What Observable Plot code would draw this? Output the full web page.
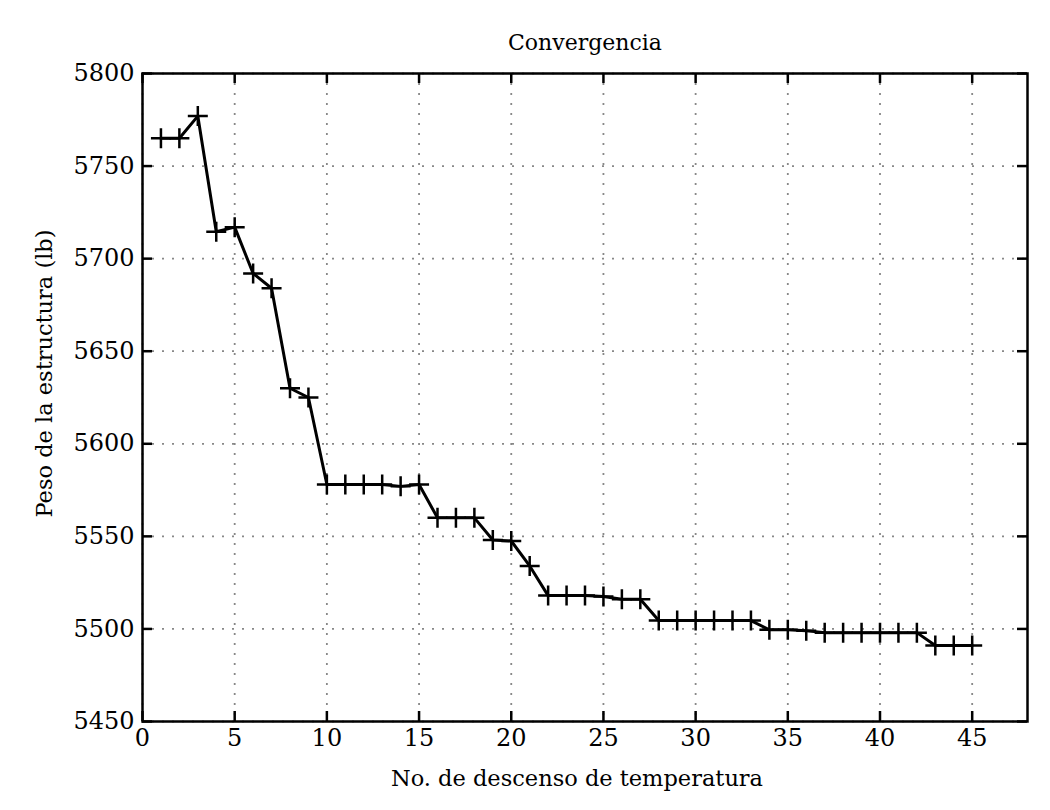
<!DOCTYPE html>
<html>
<head>
<meta charset="utf-8">
<script src="https://cdn.jsdelivr.net/npm/d3@7"></script>
<script src="https://cdn.jsdelivr.net/npm/@observablehq/plot@0.6"></script>
<style>
  html, body { margin: 0; padding: 0; background: #fff; }
  #chart { width: 1050px; height: 810px; }
</style>
</head>
<body>
<div id="chart"></div>
<script>
const titleText = "Convergencia";
const xLabel = "No. de descenso de temperatura";
const yLabel = "Peso de la estructura (lb)";

const iterations = [1,2,3,4,5,6,7,8,9,10,11,12,13,14,15,16,17,18,19,20,21,22,23,24,25,26,27,28,29,30,31,32,33,34,35,36,37,38,39,40,41,42,43,44,45];
const weights = [5765,5765,5777,5714.5,5717,5692,5684,5630,5625,5578,5578,5578,5578,5577,5578,5560,5560,5560,5548,5547.5,5534,5518,5518,5518,5517.5,5516,5516,5504.5,5504.5,5504.5,5504.5,5504.5,5504.5,5499.5,5499.5,5499,5498,5498,5498,5498,5498,5498,5491,5491,5491];

const xTicks = [0,5,10,15,20,25,30,35,40,45];
const yTicks = [5450,5500,5550,5600,5650,5700,5750,5800];
const xDomain = [0, 48];
const yDomain = [5450, 5800];

const data = iterations.map((x, i) => ({x, y: weights[i]}));

const W = 1050, H = 810;
const mL = 142, mR = 23, mT = 73, mB = 89;
const fW = W - mL - mR, fH = H - mT - mB;
const tickLen = 10;

const plusSymbol = {
  draw(ctx, size) {
    const r = Math.sqrt(size / Math.PI);
    ctx.moveTo(-r, 0); ctx.lineTo(r, 0);
    ctx.moveTo(0, -r); ctx.lineTo(0, r);
  }
};

const gridStyle = {stroke: "#888888", strokeOpacity: 1, strokeWidth: 1.8, strokeDasharray: "2,8"};

const chart = Plot.plot({
  width: W,
  height: H,
  marginLeft: mL,
  marginRight: mR,
  marginTop: mT,
  marginBottom: mB,
  style: {fontFamily: "DejaVu Serif", fontSize: "24px", background: "#fff", color: "black"},
  x: {domain: xDomain, ticks: xTicks},
  y: {domain: yDomain, ticks: yTicks},
  marks: [
    Plot.gridX(xTicks, gridStyle),
    Plot.gridY(yTicks, gridStyle),
    Plot.line(data, {x: "x", y: "y", stroke: "black", strokeWidth: 3}),
    Plot.dot(data, {x: "x", y: "y", symbol: plusSymbol, r: 10, fill: "none", stroke: "black", strokeWidth: 2.5}),
    Plot.tickX(xTicks, {x: d => d, insetTop: fH - tickLen, stroke: "black", strokeWidth: 2.5}),
    Plot.tickX(xTicks, {x: d => d, insetBottom: fH - tickLen, stroke: "black", strokeWidth: 2.5}),
    Plot.tickY(yTicks, {y: d => d, insetRight: fW - tickLen, stroke: "black", strokeWidth: 2.5}),
    Plot.tickY(yTicks, {y: d => d, insetLeft: fW - tickLen, stroke: "black", strokeWidth: 2.5}),
    Plot.frame({stroke: "black", strokeWidth: 2.5}),
    Plot.axisX(xTicks, {tickSize: 0, tickPadding: 7, fontSize: 24, label: null, tickFormat: d => String(d)}),
    Plot.axisY(yTicks, {tickSize: 0, tickPadding: 8, fontSize: 24, label: null, tickFormat: d => String(d)}),
    Plot.text([titleText], {frameAnchor: "top", text: d => d, dy: -31, fontSize: 22, lineAnchor: "middle"}),
    Plot.text([xLabel], {frameAnchor: "bottom", text: d => d, dy: 57, dx: -8, fontSize: 22.5, lineAnchor: "middle"}),
    Plot.text([yLabel], {frameAnchor: "left", text: d => d, dx: -98, dy: -24, rotate: -90, fontSize: 22.5, textAnchor: "middle", lineAnchor: "middle"})
  ]
});

document.getElementById("chart").appendChild(chart);
</script>
</body>
</html>
